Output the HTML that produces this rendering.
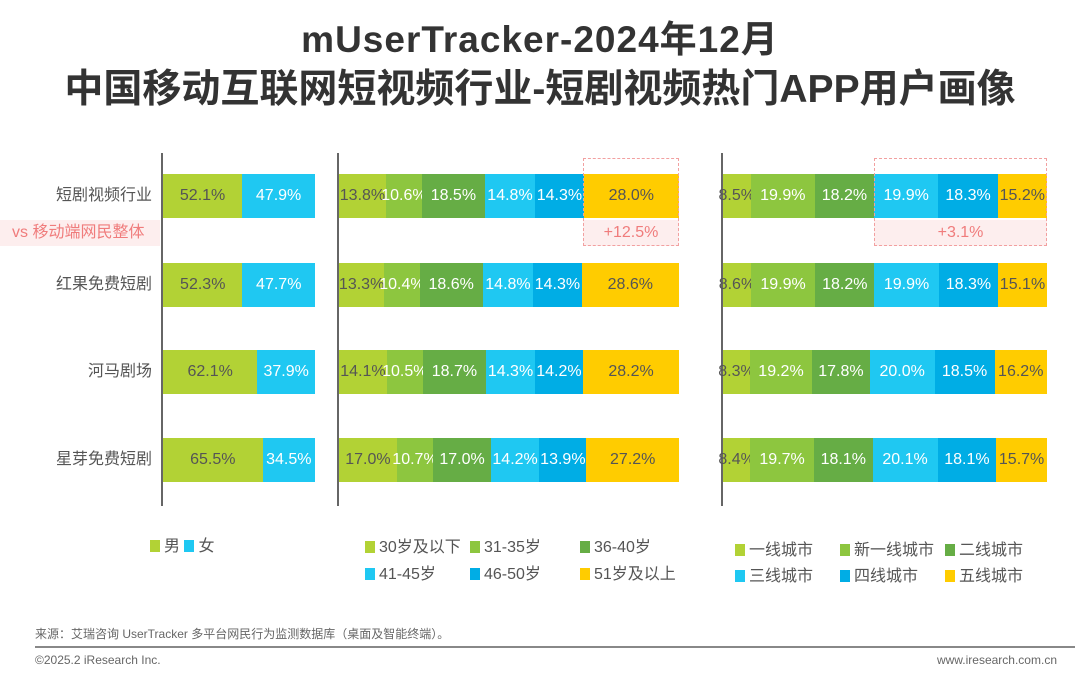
<!DOCTYPE html>
<html><head><meta charset="utf-8"><style>
body{margin:0;width:1080px;height:688px;background:#fff;position:relative;overflow:hidden;font-family:"Liberation Sans","Noto Sans CJK SC",sans-serif;}
.a{position:absolute;}
.t{left:0;width:1080px;text-align:center;font-weight:bold;color:#333;white-space:nowrap;}
.ax{width:2px;background:#666;top:153px;height:353px;}
.bar{position:absolute;height:44px;display:flex;}
.bar div{height:44px;line-height:44px;text-align:center;font-size:16px;color:#fff;white-space:nowrap;overflow:visible;display:flex;justify-content:center;}
.c1{background:#b2d235;color:#555!important}.c2{background:#8dc63f}.c3{background:#66ad45}.c4{background:#1fc8f2}.c5{background:#00ade5}.c6{background:#ffcc00;color:#555!important}
.lab{font-size:16px;color:#555;text-align:right;width:152px;left:0;line-height:44px;}
.lg{font-size:16px;color:#555;white-space:nowrap;}
.lg i{display:inline-block;width:10px;height:12px;margin-right:4px;vertical-align:-1px;}
</style></head><body>
<div class="a t" style="top:9px;font-size:37px;letter-spacing:1px;">mUserTracker-2024年12月</div>
<div class="a t" style="top:58px;font-size:39px;">中国移动互联网短视频行业-短剧视频热门APP用户画像</div>

<div class="a" style="left:0;top:220px;width:160px;height:26px;background:#fdeeee;"></div>
<div class="a" style="left:12px;top:220px;line-height:26px;font-size:16px;color:#f07c7c;">vs 移动端网民整体</div>
<div class="a" style="left:583px;top:220px;width:96px;height:26px;background:#fdeeee;"></div>
<div class="a" style="left:874px;top:220px;width:173px;height:26px;background:#fdeeee;"></div>

<div class="a lab" style="top:174px;">短剧视频行业</div>
<div class="a lab" style="top:263px;">红果免费短剧</div>
<div class="a lab" style="top:350px;">河马剧场</div>
<div class="a lab" style="top:438px;">星芽免费短剧</div>

<div class="a ax" style="left:161px;"></div>
<div class="a ax" style="left:337px;"></div>
<div class="a ax" style="left:721px;"></div>

<div class="bar" style="left:163px;top:174px;width:152px"><div class="c1" style="width:52.1%">52.1%</div><div class="c4" style="width:47.9%">47.9%</div></div>
<div class="bar" style="left:163px;top:263px;width:152px"><div class="c1" style="width:52.3%">52.3%</div><div class="c4" style="width:47.7%">47.7%</div></div>
<div class="bar" style="left:163px;top:350px;width:152px"><div class="c1" style="width:62.1%">62.1%</div><div class="c4" style="width:37.9%">37.9%</div></div>
<div class="bar" style="left:163px;top:438px;width:152px"><div class="c1" style="width:65.5%">65.5%</div><div class="c4" style="width:34.5%">34.5%</div></div>

<div class="bar" style="left:339px;top:174px;width:340px"><div class="c1" style="width:13.8%">13.8%</div><div class="c2" style="width:10.6%">10.6%</div><div class="c3" style="width:18.5%">18.5%</div><div class="c4" style="width:14.8%">14.8%</div><div class="c5" style="width:14.3%">14.3%</div><div class="c6" style="width:28%">28.0%</div></div>
<div class="bar" style="left:339px;top:263px;width:340px"><div class="c1" style="width:13.3%">13.3%</div><div class="c2" style="width:10.4%">10.4%</div><div class="c3" style="width:18.6%">18.6%</div><div class="c4" style="width:14.8%">14.8%</div><div class="c5" style="width:14.3%">14.3%</div><div class="c6" style="width:28.6%">28.6%</div></div>
<div class="bar" style="left:339px;top:350px;width:340px"><div class="c1" style="width:14.1%">14.1%</div><div class="c2" style="width:10.5%">10.5%</div><div class="c3" style="width:18.7%">18.7%</div><div class="c4" style="width:14.3%">14.3%</div><div class="c5" style="width:14.2%">14.2%</div><div class="c6" style="width:28.2%">28.2%</div></div>
<div class="bar" style="left:339px;top:438px;width:340px"><div class="c1" style="width:17%">17.0%</div><div class="c2" style="width:10.7%">10.7%</div><div class="c3" style="width:17%">17.0%</div><div class="c4" style="width:14.2%">14.2%</div><div class="c5" style="width:13.9%">13.9%</div><div class="c6" style="width:27.2%">27.2%</div></div>

<div class="bar" style="left:723px;top:174px;width:324px"><div class="c1" style="width:8.5%">8.5%</div><div class="c2" style="width:19.9%">19.9%</div><div class="c3" style="width:18.2%">18.2%</div><div class="c4" style="width:19.9%">19.9%</div><div class="c5" style="width:18.3%">18.3%</div><div class="c6" style="width:15.2%">15.2%</div></div>
<div class="bar" style="left:723px;top:263px;width:324px"><div class="c1" style="width:8.6%">8.6%</div><div class="c2" style="width:19.9%">19.9%</div><div class="c3" style="width:18.2%">18.2%</div><div class="c4" style="width:19.9%">19.9%</div><div class="c5" style="width:18.3%">18.3%</div><div class="c6" style="width:15.1%">15.1%</div></div>
<div class="bar" style="left:723px;top:350px;width:324px"><div class="c1" style="width:8.3%">8.3%</div><div class="c2" style="width:19.2%">19.2%</div><div class="c3" style="width:17.8%">17.8%</div><div class="c4" style="width:20%">20.0%</div><div class="c5" style="width:18.5%">18.5%</div><div class="c6" style="width:16.2%">16.2%</div></div>
<div class="bar" style="left:723px;top:438px;width:324px"><div class="c1" style="width:8.4%">8.4%</div><div class="c2" style="width:19.7%">19.7%</div><div class="c3" style="width:18.1%">18.1%</div><div class="c4" style="width:20.1%">20.1%</div><div class="c5" style="width:18.1%">18.1%</div><div class="c6" style="width:15.7%">15.7%</div></div>

<div class="a" style="left:583px;top:158px;width:94px;height:86px;border:1.5px dashed #f2a0a0;"></div>
<div class="a" style="left:583px;top:220px;width:96px;line-height:26px;text-align:center;font-size:16px;color:#f07c7c;">+12.5%</div>
<div class="a" style="left:874px;top:158px;width:171px;height:86px;border:1.5px dashed #f2a0a0;"></div>
<div class="a" style="left:874px;top:220px;width:173px;line-height:26px;text-align:center;font-size:16px;color:#f07c7c;">+3.1%</div>

<div class="a lg" style="left:150px;top:532px;"><i class="c1"></i>男 <i class="c4"></i>女</div>
<div class="a lg" style="left:365px;top:533px;"><i class="c1"></i>30岁及以下</div>
<div class="a lg" style="left:470px;top:533px;"><i class="c2"></i>31-35岁</div>
<div class="a lg" style="left:580px;top:533px;"><i class="c3"></i>36-40岁</div>
<div class="a lg" style="left:365px;top:560px;"><i class="c4"></i>41-45岁</div>
<div class="a lg" style="left:470px;top:560px;"><i class="c5"></i>46-50岁</div>
<div class="a lg" style="left:580px;top:560px;"><i class="c6"></i>51岁及以上</div>
<div class="a lg" style="left:735px;top:536px;"><i class="c1"></i>一线城市</div>
<div class="a lg" style="left:840px;top:536px;"><i class="c2"></i>新一线城市</div>
<div class="a lg" style="left:945px;top:536px;"><i class="c3"></i>二线城市</div>
<div class="a lg" style="left:735px;top:562px;"><i class="c4"></i>三线城市</div>
<div class="a lg" style="left:840px;top:562px;"><i class="c5"></i>四线城市</div>
<div class="a lg" style="left:945px;top:562px;"><i class="c6"></i>五线城市</div>

<div class="a" style="left:35px;top:625px;font-size:12px;color:#666;">来源：艾瑞咨询 UserTracker 多平台网民行为监测数据库（桌面及智能终端）。</div>
<div class="a" style="left:35px;top:646px;width:1040px;height:2px;background:#888;"></div>
<div class="a" style="left:35px;top:653px;font-size:12px;color:#666;">©2025.2 iResearch Inc.</div>
<div class="a" style="right:23px;top:653px;font-size:12px;color:#666;">www.iresearch.com.cn</div>
</body></html>
